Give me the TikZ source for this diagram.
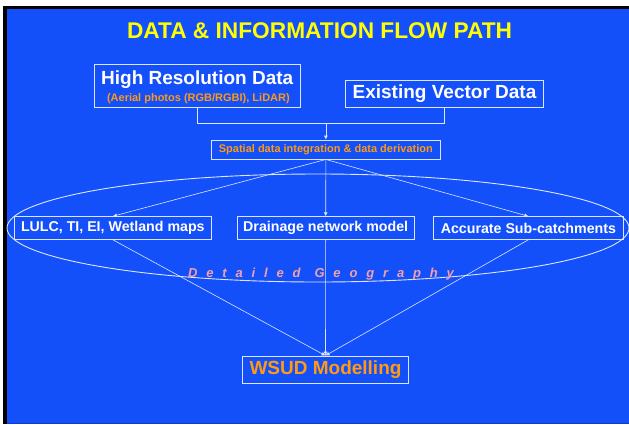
\documentclass[tikz,border=0pt]{standalone}
\usepackage{fontspec}
\setmainfont{Liberation Sans}
\usetikzlibrary{arrows.meta}
\definecolor{bgblue}{HTML}{1450FA}
\definecolor{edgeblue}{HTML}{0E3CC8}
\definecolor{titleyellow}{HTML}{FFFF00}
\definecolor{orangetxt}{HTML}{FF9A12}
\definecolor{pinktxt}{HTML}{F5A0A8}
\definecolor{linecol}{HTML}{DCE6FF}
\tikzset{
  box/.style={draw=linecol, line width=0.9pt, inner sep=0pt, rectangle},
  conn/.style={draw=linecol, line width=0.6pt},
  arr/.style={conn, -{Latex[length=4pt,width=4pt]}},
  txt/.style={inner sep=0pt, font=\bfseries},
}
\begin{document}
\begin{tikzpicture}[x=1pt,y=-1pt]
\useasboundingbox (0,0) rectangle (629,424);
\fill[white] (0,0) rectangle (629,424);
\fill[black] (3,6) rectangle (629,424);
\fill[bgblue] (6.7,9) rectangle (629,423);
\fill[edgeblue] (6.7,423) rectangle (629,424);

% title
\node[txt, text=titleyellow, font=\bfseries\fontsize{22.7}{26}\selectfont] (title) at (319.5,30.5) {DATA \& INFORMATION FLOW PATH};

% ellipse
\draw[linecol, line width=0.9pt] (318,228) ellipse [x radius=311, y radius=54];

% boxes
\node[box, minimum width=205.7pt, minimum height=43pt] (hrd) at (197.2,85.8) {};
\node[txt, text=white, anchor=base, font=\bfseries\fontsize{19}{22}\selectfont] (hrdt) at (197.2,84.3) {High Resolution Data};
\node[txt, text=orangetxt, anchor=base, font=\bfseries\fontsize{11}{13}\selectfont] (hrds) at (198.4,101.3) {(Aerial photos (RGB/RGBI), LiDAR)};

\node[box, minimum width=197.6pt, minimum height=27.3pt, text=white, font=\bfseries\fontsize{19}{22}\selectfont] (evd) at (444.5,93.7) {Existing Vector Data};

\node[box, minimum width=228.3pt, minimum height=19pt, text=orangetxt, font=\bfseries\fontsize{11}{13}\selectfont] (sp) at (325.85,149.5) {Spatial data integration \& data derivation};

\node[box, minimum width=197.7pt, minimum height=22.6pt, text=white, font=\bfseries\fontsize{14.2}{17}\selectfont] (lulc) at (112.8,228) {LULC, TI, EI, Wetland maps};
\node[box, minimum width=177.5pt, minimum height=22.6pt, text=white, font=\bfseries\fontsize{14.2}{17}\selectfont] (dr) at (325.7,228) {Drainage network model};
\node[box, minimum width=189.3pt, minimum height=22.6pt, text=white, font=\bfseries\fontsize{14.2}{17}\selectfont] (acc) at (528.4,228) {Accurate Sub-catchments};

\node[box, minimum width=165.6pt, minimum height=27.7pt, text=orangetxt, font=\bfseries\fontsize{19}{22}\selectfont] (wsud) at (325.5,369.9) {WSUD Modelling};

% connectors
\coordinate (j) at (325.85,123.3);
\draw[conn] (hrd.south) |- (j) -| (evd.south);
\draw[arr] (j) -- (sp.north);
\draw[arr] (sp.south) -- (lulc.north);
\draw[arr] (sp.south) -- (dr.north);
\draw[arr] (sp.south) -- (acc.north);
\draw[arr] (lulc.south) -- (wsud.north);
\draw[arr] (dr.south) -- (wsud.north);
\draw[arr] (acc.south) -- (wsud.north);

% detailed geography label
\node[inner sep=0pt, anchor=base, text=pinktxt, font=\bfseries\itshape\fontsize{13}{15}\selectfont] (geo) at (321,277) {\addfontfeature{LetterSpace=68}Detailed\hspace{14pt}Geography};
\end{tikzpicture}
\end{document}
